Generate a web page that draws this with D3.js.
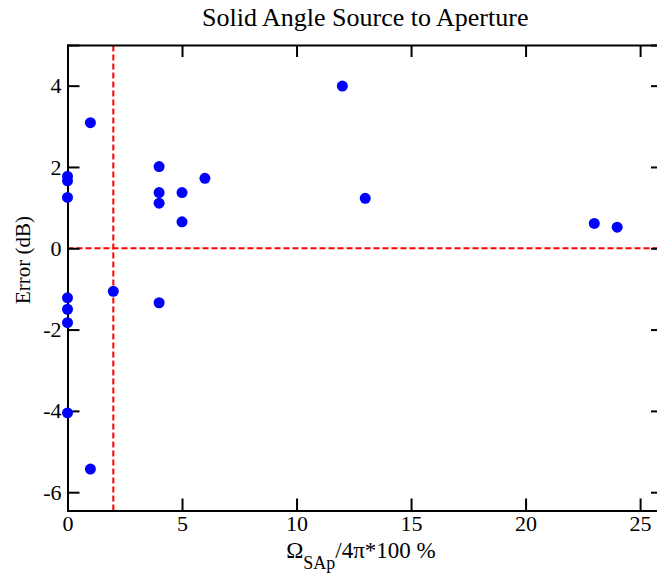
<!DOCTYPE html>
<html>
<head>
<meta charset="utf-8">
<script src="https://cdn.jsdelivr.net/npm/d3@7"></script>
<style>
  html, body { margin: 0; padding: 0; background: #fff; }
  svg { display: block; }
  svg text { font-family: "Liberation Serif", "Times New Roman", serif !important; fill: #000; }
</style>
</head>
<body>
<svg id="chart" width="657" height="576"></svg>
<script>
// ---- data ----
const xValues = [0, 0, 0, 1, 2, 0, 0, 0, 0, 1, 4, 4, 4, 5, 6, 5, 4, 12, 13, 23, 24];
const yValues = [1.77, 1.66, 1.25, 3.09, -1.06, -1.22, -1.50, -1.83, -4.05, -5.43,
                 2.01, 1.37, 1.11, 1.37, 1.72, 0.65, -1.34, 3.99, 1.23, 0.61, 0.52];
const xTicks = [0, 5, 10, 15, 20, 25];
const yTicks = [-6, -4, -2, 0, 2, 4];
const xDomain = [0, 26];
const yDomain = [-6.45, 5];
const refX = 2;   // vertical reference line
const refY = 0;   // horizontal reference line
const titleText = "Solid Angle Source to Aperture";
const yLabelText = "Error (dB)";

// ---- layout ----
const svg = d3.select("#chart");
const mLeft = 67.5, mRight = 663, mTop = 45, mBottom = 510.5;
const x = d3.scaleLinear().domain(xDomain).range([mLeft, mRight]);
const y = d3.scaleLinear().domain(yDomain).range([mBottom, mTop]);
const tickLen = 12;
const fmt = d => String(d);

// reference lines (under points)
svg.append("line")
  .attr("x1", x(xDomain[0])).attr("x2", x(xDomain[1]))
  .attr("y1", y(refY)).attr("y2", y(refY))
  .attr("stroke", "#ff0000").attr("stroke-width", 2).attr("stroke-dasharray", "6,3");
svg.append("line")
  .attr("x1", x(refX)).attr("x2", x(refX))
  .attr("y1", y(yDomain[0])).attr("y2", y(yDomain[1]))
  .attr("stroke", "#ff0000").attr("stroke-width", 2).attr("stroke-dasharray", "6,3");

// axes (inward ticks)
const axB = d3.axisBottom(x).tickValues(xTicks).tickSize(-tickLen).tickPadding(5).tickFormat(fmt);
const axT = d3.axisTop(x).tickValues(xTicks).tickSize(-tickLen).tickFormat("");
const axL = d3.axisLeft(y).tickValues(yTicks).tickSize(-tickLen).tickPadding(6).tickFormat(fmt);
const axR = d3.axisRight(y).tickValues(yTicks).tickSize(-tickLen).tickFormat("");

function style(g) {
  g.attr("font-family", null);
  g.select(".domain").attr("stroke", "#000").attr("stroke-width", 2);
  g.selectAll(".tick line").attr("stroke", "#000").attr("stroke-width", 2);
  g.selectAll(".tick text").attr("font-size", 22).attr("fill", "#000");
}
svg.append("g").attr("transform", `translate(0,${mBottom})`).call(axB).call(style);
svg.append("g").attr("transform", `translate(0,${mTop})`).call(axT).call(style);
svg.append("g").attr("transform", `translate(${mLeft},0)`).call(axL).call(style);
svg.append("g").attr("transform", `translate(${mRight},0)`).call(axR).call(style);

// points
const pts = xValues.map((v, i) => ({x: v, y: yValues[i]}));
svg.append("g").selectAll("circle").data(pts).join("circle")
  .attr("cx", d => x(d.x)).attr("cy", d => y(d.y)).attr("r", 5.5)
  .attr("fill", "#0000ff");

// title
svg.append("text").attr("x", (mLeft + mRight) / 2).attr("y", 26)
  .attr("text-anchor", "middle").attr("font-size", 26).text(titleText);

// y label
svg.append("text").attr("transform", "translate(30,260) rotate(-90)")
  .attr("text-anchor", "middle").attr("font-size", 21).text(yLabelText);

// x label with subscript
const xl = svg.append("text").attr("x", 361).attr("y", 558)
  .attr("text-anchor", "middle").attr("font-size", 23);
xl.append("tspan").text("Ω");
xl.append("tspan").attr("font-size", 18).attr("dy", 11).text("SAp");
xl.append("tspan").attr("dy", -11).text("/4π*100 %");
</script>
</body>
</html>
